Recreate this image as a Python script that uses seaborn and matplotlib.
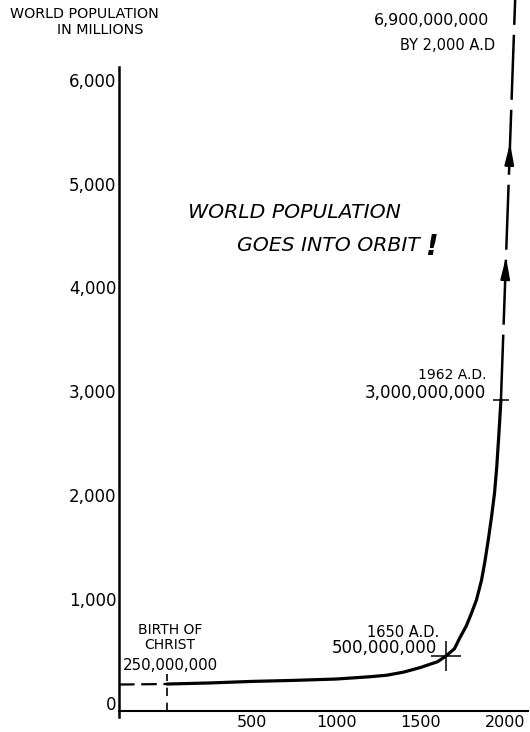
import seaborn as sns
import matplotlib.pyplot as plt
import pandas as pd
from matplotlib.transforms import ScaledTranslation

# population curve (year AD, millions)
years = [0, 250, 500, 750, 1000, 1200, 1300, 1400, 1500, 1600, 1650, 1700, 1730, 1770,
         1800, 1830, 1860, 1880, 1900, 1920, 1937, 1950, 1962, 1975]
population = [260, 270, 285, 295, 308, 330, 345, 375, 420, 475, 530, 600, 700, 820,
              940, 1070, 1260, 1440, 1650, 1880, 2100, 2350, 2650, 3000]

# dashed parts
before_christ_years = [-285, 0]
before_christ_pop = [255, 260]
projection_years = [1975, 2060]
projection_pop = [3000, 6900]

y_ticks = [0, 1000, 2000, 3000, 4000, 5000, 6000]
y_labels = ['0', '1,000', '2,000', '3,000', '4,000', '5,000', '6,000']
x_ticks = [500, 1000, 1500, 2000]
x_labels = ['500', '1000', '1500', '2000']

df = pd.DataFrame({'year': years, 'population': population})

sns.set_style('white')
plt.rcParams['font.family'] = ['DejaVu Sans']
plt.rcParams['text.color'] = 'black'
plt.rcParams['xtick.color'] = 'black'
plt.rcParams['ytick.color'] = 'black'

fig = plt.figure(figsize=(5.3, 7.32), dpi=100)
ax = fig.add_axes([119 / 530, 21 / 732, 409 / 530, 711 / 732])

sns.lineplot(x='year', y='population', data=df, color='black', lw=2.3, ax=ax)
ax.plot(before_christ_years, before_christ_pop, color='black', lw=1.6, dashes=(7, 3))
ax.plot([0, 0], [0, 360], color='black', lw=1.2, dashes=(5, 4))
ax.plot(projection_years, projection_pop, color='black', lw=1.8, dashes=(26, 4),
        clip_on=False)

# arrow heads on the projection
for y0, y1 in [(4230, 4400), (5330, 5500)]:
    x0 = 1975 + (y0 - 3000) * 85 / 3900
    x1 = 1975 + (y1 - 3000) * 85 / 3900
    ax.annotate('', xy=(x1, y1), xytext=(x0, y0),
                arrowprops=dict(arrowstyle='-|>,head_length=1.3,head_width=0.28',
                                color='black', lw=1.5))

# crosses at the marked points
ax.plot([1650], [530], marker='+', color='black', ms=22, mew=1.1)
ax.plot([1975], [3000], marker='+', color='black', ms=12, mew=1.1)

ax.set_xlim(-285, 2135)
ax.set_ylim(0, 6850)
ax.set_xticks(x_ticks)
ax.set_xticklabels(x_labels, fontsize=11.5)
ax.set_yticks(y_ticks)
ax.set_yticklabels(y_labels, fontsize=12)
ax.tick_params(axis='y', direction='in', length=18, width=1.2, pad=2)
ax.tick_params(axis='x', direction='in', length=9, width=1.2, pad=3)
for lab in ax.get_yticklabels():
    lab.set_transform(lab.get_transform() + ScaledTranslation(0, 6 / 72, fig.dpi_scale_trans))
ax.set_xlabel('')
ax.set_ylabel('')

for side in ['top', 'right']:
    ax.spines[side].set_visible(False)
ax.spines['left'].set_bounds(-60, 6200)
ax.spines['left'].set_linewidth(1.8)
ax.spines['bottom'].set_linewidth(1.5)
ax.spines['left'].set_color('black')
ax.spines['bottom'].set_color('black')

# texts
fig.text(84 / 530, 1 - 14 / 732, 'WORLD POPULATION', ha='center', va='center', fontsize=10.3)
fig.text(100 / 530, 1 - 30 / 732, 'IN MILLIONS', ha='center', va='center', fontsize=10.3)

ax.text(755, 4798, 'WORLD POPULATION', ha='center', va='center', fontsize=14.7,
        style='italic')
ax.text(955, 4489, 'GOES INTO ORBIT', ha='center', va='center', fontsize=14.7,
        style='italic')
ax.text(1565, 4470, '!', ha='center', va='center', fontsize=20, style='italic',
        fontweight='bold')

ax.text(1906, 6657, '6,900,000,000', ha='right', va='center', fontsize=11.4)
ax.text(1942, 6416, 'BY 2,000 A.D', ha='right', va='center', fontsize=10.5)
ax.text(1888, 3237, '1962 A.D.', ha='right', va='center', fontsize=10)
ax.text(1888, 3064, '3,000,000,000', ha='right', va='center', fontsize=12)
ax.text(1611, 761, '1650 A.D.', ha='right', va='center', fontsize=10.5)
ax.text(1599, 607, '500,000,000', ha='right', va='center', fontsize=12)
ax.text(16, 780, 'BIRTH OF', ha='center', va='center', fontsize=10)
ax.text(16, 636, 'CHRIST', ha='center', va='center', fontsize=10)
ax.text(22, 434, '250,000,000', ha='center', va='center', fontsize=10.8)

fig.savefig('out.png', dpi=100)
